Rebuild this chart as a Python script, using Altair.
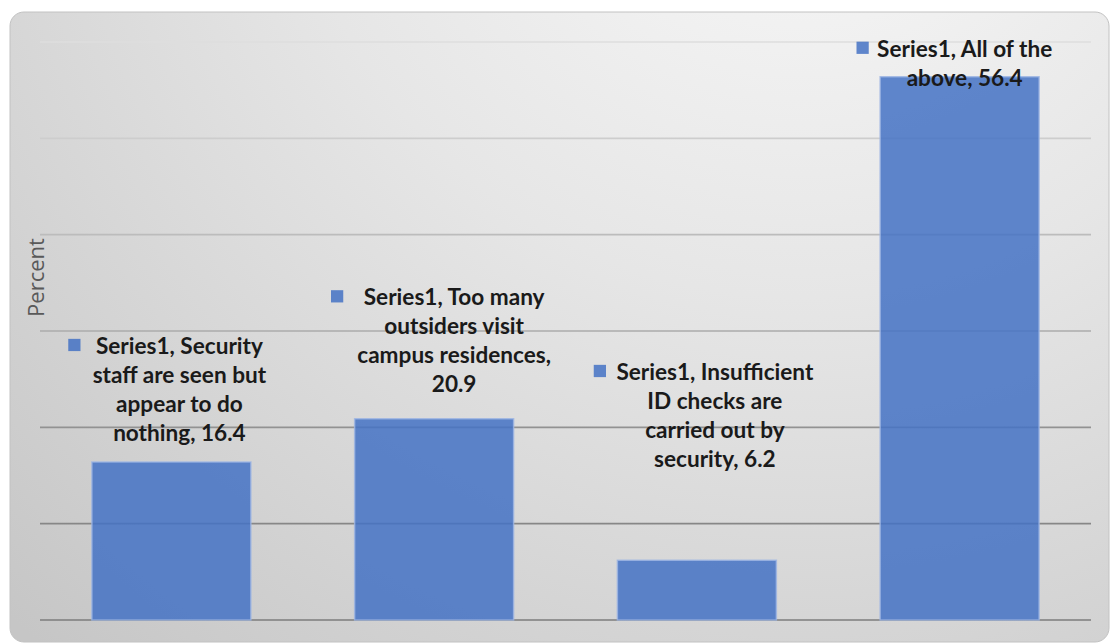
import altair as alt
import pandas as pd

# ---- data -----------------------------------------------------------------
series_name = "Series1"
categories = [
    "Security staff are seen but appear to do nothing",
    "Too many outsiders visit campus residences",
    "Insufficient ID checks are carried out by security",
    "All of the above",
]
values = [16.4, 20.9, 6.2, 56.4]

# data-label text, one entry per printed line ({s} = series, {v} = value)
label_lines = [
    ["{s}, Security", "staff are seen but", "appear to do", "nothing, {v}"],
    ["{s}, Too many", "outsiders visit", "campus residences,", "{v}"],
    ["{s}, Insufficient", "ID checks are", "carried out by", "security, {v}"],
    ["{s}, All of the", "above, {v}"],
]

y_ticks = [0, 10, 20, 30, 40, 50, 60]

# ---- label placement (first-line height in percent, horizontal nudge in px) --
label_anchor = [28.55, 33.6, 25.85, 59.4]
label_dx = [8, 20, 18, 5]

W, H = 1051, 578
FONT = "Lato"
BAR_BLUE = "#4472C4"

rows = []
for cat, val, lines, anc in zip(categories, values, label_lines, label_anchor):
    text = "\n".join(l.format(s=series_name, v=val) for l in lines)
    rows.append({"category": cat, "value": val, "label": text, "anchor": anc})
df = pd.DataFrame(rows)

x_enc = alt.X(
    "category:N",
    sort=categories,
    scale=alt.Scale(paddingInner=0.395, paddingOuter=0.1975),
    axis=None,
)
y_scale = alt.Scale(domain=[0, 60], nice=False, zero=True)
y_axis = alt.Axis(
    title="Percent", labels=False, ticks=False, domain=False, grid=False,
    titleFont="Open Sans", titleFontSize=22, titleFontWeight="normal",
    titleColor="#595959", titleAngle=270, titleAlign="center",
    titleBaseline="middle", titleX=-4, titleY=235, zindex=1,
)


def y_of(field):
    return alt.Y(field, scale=y_scale, axis=y_axis, title="Percent")


# rounded panel with a soft radial gradient behind the plot
panel_fill = alt.RadialGradient(
    gradient="radial",
    x1=0.72, y1=0.0, r1=0.0,
    x2=0.72, y2=0.0, r2=1.05,
    stops=[
        alt.GradientStop(offset=0.0, color="#fbfbfb"),
        alt.GradientStop(offset=0.45, color="#e6e6e6"),
        alt.GradientStop(offset=1.0, color="#c6c6c6"),
    ],
)
panel = alt.Chart(pd.DataFrame({"panel": [0]})).mark_rect(
    fill=panel_fill, stroke="#c2c2c2", strokeWidth=1, cornerRadius=14
).encode(
    x=alt.value(-30), x2=alt.value(W + 18),
    y=alt.value(-30), y2=alt.value(H + 22),
)

# horizontal gridlines, fading from dark at the baseline to light at the top
grid = alt.Chart(pd.DataFrame({"tick": y_ticks})).mark_rule(strokeWidth=1.6).encode(
    y=y_of("tick:Q"),
    color=alt.Color(
        "tick:Q",
        scale=alt.Scale(domain=[0, 20, 30, 60],
                        range=["#7c7c7c", "#929292", "#ababab", "#dedede"]),
        legend=None,
    ),
)

bars = alt.Chart(df).mark_bar(
    color=BAR_BLUE, fillOpacity=0.85,
    stroke="#9db5e3", strokeWidth=1.5, strokeOpacity=0.8,
).encode(x=x_enc, y=y_of("value:Q"))

keys = alt.Chart(df).mark_square(
    size=150, color=BAR_BLUE, opacity=0.85, xOffset=-97
).encode(x=x_enc, y=y_of("anchor:Q"))

texts = []
for cat, dx in zip(categories, label_dx):
    texts.append(
        alt.Chart(df)
        .transform_filter(alt.datum.category == cat)
        .mark_text(
            font=FONT, fontSize=22.6, fontWeight="bold", color="#1a1a1a",
            align="center", baseline="top", lineBreak="\n", lineHeight=29,
            dx=dx, dy=-9,
        )
        .encode(x=x_enc, y=y_of("anchor:Q"), text="label:N")
    )

chart = (
    alt.layer(panel, grid, bars, keys, *texts)
    .properties(
        width=W, height=H,
        padding={"left": 40, "top": 42, "right": 22, "bottom": 24},
        autosize="none",
        background="white",
    )
    .configure_view(stroke=None)
)

chart.save("out.html", embed_options={"renderer": "svg", "actions": False})
